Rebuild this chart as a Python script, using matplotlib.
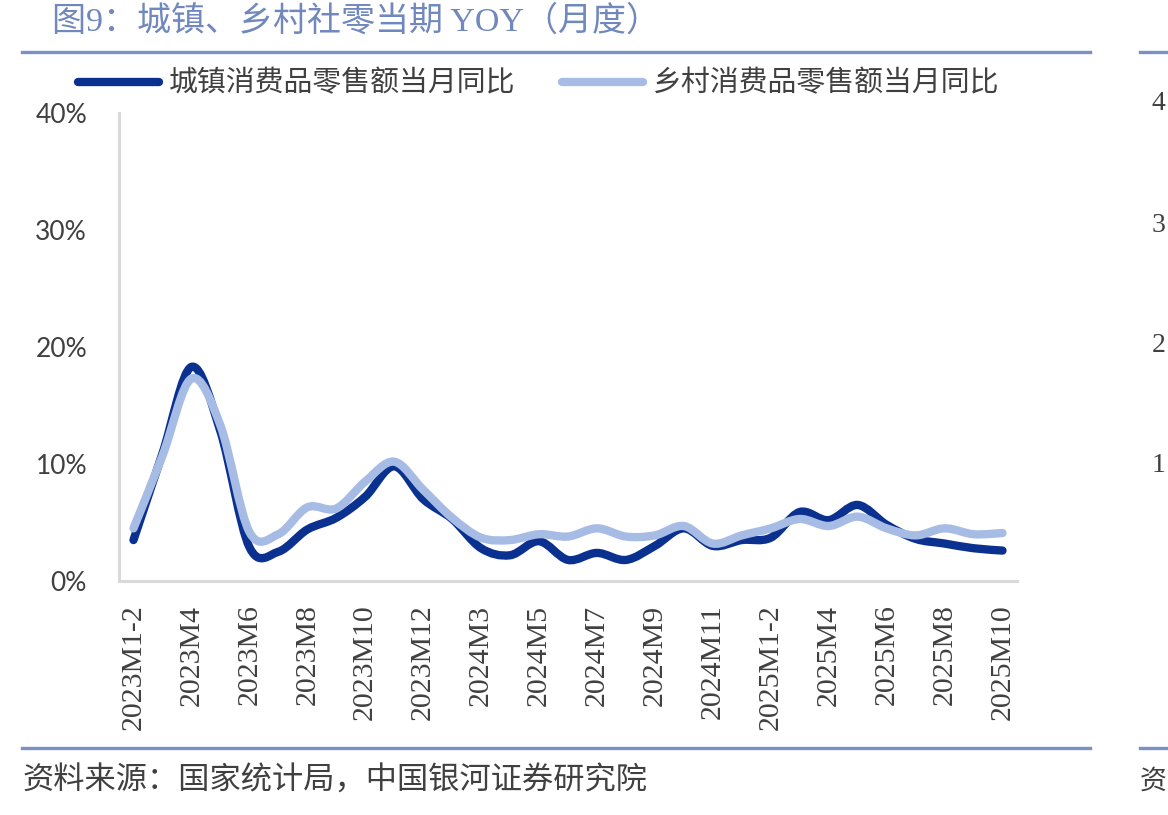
import matplotlib
matplotlib.use("Agg")
import matplotlib.pyplot as plt
from matplotlib.path import Path
from matplotlib.patches import PathPatch
from matplotlib.lines import Line2D
import numpy as np

plt.rcParams['font.family'] = ['Liberation Serif', 'Noto Sans CJK SC', 'DejaVu Sans']

months = ["2023M1-2", "2023M3", "2023M4", "2023M5", "2023M6", "2023M7", "2023M8",
          "2023M9", "2023M10", "2023M11", "2023M12",
          "2024M1-2", "2024M3", "2024M4", "2024M5", "2024M6", "2024M7", "2024M8",
          "2024M9", "2024M10", "2024M11", "2024M12",
          "2025M1-2", "2025M3", "2025M4", "2025M5", "2025M6", "2025M7", "2025M8",
          "2025M9", "2025M10"]

urban = [3.5, 10.9, 18.3, 12.8, 2.9, 2.5, 4.4, 5.4, 7.2, 9.8, 7.0,
         5.3, 2.8, 2.2, 3.4, 1.8, 2.4, 1.8, 3.0, 4.5, 3.0, 3.5,
         3.7, 5.9, 5.2, 6.5, 4.8, 3.6, 3.2, 2.8, 2.6]
rural = [4.5, 10.7, 17.3, 13.3, 4.2, 4.0, 6.3, 6.2, 8.5, 10.2, 7.8,
         5.4, 3.7, 3.5, 4.0, 3.8, 4.5, 3.8, 3.9, 4.7, 3.2, 3.9,
         4.5, 5.3, 4.7, 5.5, 4.5, 3.9, 4.5, 4.0, 4.1]

series_names = ["城镇消费品零售额当月同比", "乡村消费品零售额当月同比"]
yticks = [0, 10, 20, 30, 40]
ytick_labels = ["0%", "10%", "20%", "30%", "40%"]

DARK = "#0b3190"
LIGHT = "#a7bce5"
RULE = "#7a91c2"
TXT = "#404040"

W, H = 1168, 815
fig = plt.figure(figsize=(W / 100, H / 100), dpi=100)

def fx(px):
    return px / W

def fy(py):
    return 1 - py / H

ax = fig.add_axes([fx(119), fy(581), fx(1017) - fx(119), fy(113) - fy(581)])


def smooth_path(xs, ys):
    xs = np.asarray(xs, float)
    ys = np.asarray(ys, float)
    n = len(xs)
    verts = [(xs[0], ys[0])]
    codes = [Path.MOVETO]
    for i in range(n - 1):
        i0 = max(i - 1, 0)
        i3 = min(i + 2, n - 1)
        c1 = (xs[i] + (xs[i + 1] - xs[i0]) / 6, ys[i] + (ys[i + 1] - ys[i0]) / 6)
        c2 = (xs[i + 1] - (xs[i3] - xs[i]) / 6, ys[i + 1] - (ys[i3] - ys[i]) / 6)
        verts += [c1, c2, (xs[i + 1], ys[i + 1])]
        codes += [Path.CURVE4] * 3
    return Path(verts, codes)

x = np.arange(len(months))
for vals, col in [(urban, DARK), (rural, LIGHT)]:
    p = PathPatch(smooth_path(x, vals), facecolor="none", edgecolor=col,
                  lw=6.0, capstyle="round", joinstyle="round")
    ax.add_patch(p)

ax.set_xlim(-0.5, len(months) - 0.5)
ax.set_ylim(0, 40)
ax.set_yticks(yticks)
ax.set_yticklabels(ytick_labels, fontfamily="Lato", fontsize=19, color=TXT)
ax.set_xticks(x[::2])
ax.set_xticklabels(months[::2], rotation=90, fontsize=21.5, color=TXT,
                   fontfamily="Liberation Serif", va="top")
ax.tick_params(axis="both", length=0)
ax.tick_params(axis="x", pad=17)
ax.tick_params(axis="y", pad=23)
for s in ["top", "right"]:
    ax.spines[s].set_visible(False)
for s in ["left", "bottom"]:
    ax.spines[s].set_color("#d9d9d9")
    ax.spines[s].set_linewidth(2.2)
ax.set_facecolor("none")

handles = [Line2D([0], [0], color=DARK, lw=6, solid_capstyle="round"),
           Line2D([0], [0], color=LIGHT, lw=6, solid_capstyle="round")]
fig.legend(handles, series_names, loc="center left",
           bbox_to_anchor=(fx(78), fy(84)), ncol=2, frameon=False,
           prop={"family": ["Liberation Serif", "Noto Sans CJK SC"], "size": 20.8},
           handlelength=2.8, handletextpad=0.35, columnspacing=1.6,
           borderpad=0, borderaxespad=0, labelcolor=TXT)

# title
fig.text(fx(52), fy(21), "图9：城镇、乡村社零当期 YOY（月度）", color="#7088bd",
         fontsize=24.5, va="center", ha="left",
         fontfamily=["Liberation Serif", "Noto Sans CJK SC"])

# horizontal rules
for yy in (52, 748):
    fig.add_artist(Line2D([fx(22), fx(1090)], [fy(yy), fy(yy)], color=RULE, lw=2.4))
    fig.add_artist(Line2D([fx(1140), fx(1168)], [fy(yy), fy(yy)], color=RULE, lw=2.4))

# source
fig.text(fx(22), fy(781), "资料来源：国家统计局，中国银河证券研究院", color=TXT,
         fontsize=22.5, va="center", ha="left", style="italic",
         fontfamily=["Noto Sans CJK SC"])

# neighbouring chart (cut off at right edge)
for lab, yy in [("4", 103), ("3", 225), ("2", 345), ("1", 465)]:
    fig.text(fx(1152), fy(yy), lab, color=TXT, fontsize=20, va="center", ha="left",
             fontfamily="Liberation Serif")
fig.text(fx(1140), fy(781), "资", color=TXT, fontsize=19.5, va="center", ha="left",
         fontfamily=["Noto Sans CJK SC"])

fig.savefig("out.png", dpi=100)
